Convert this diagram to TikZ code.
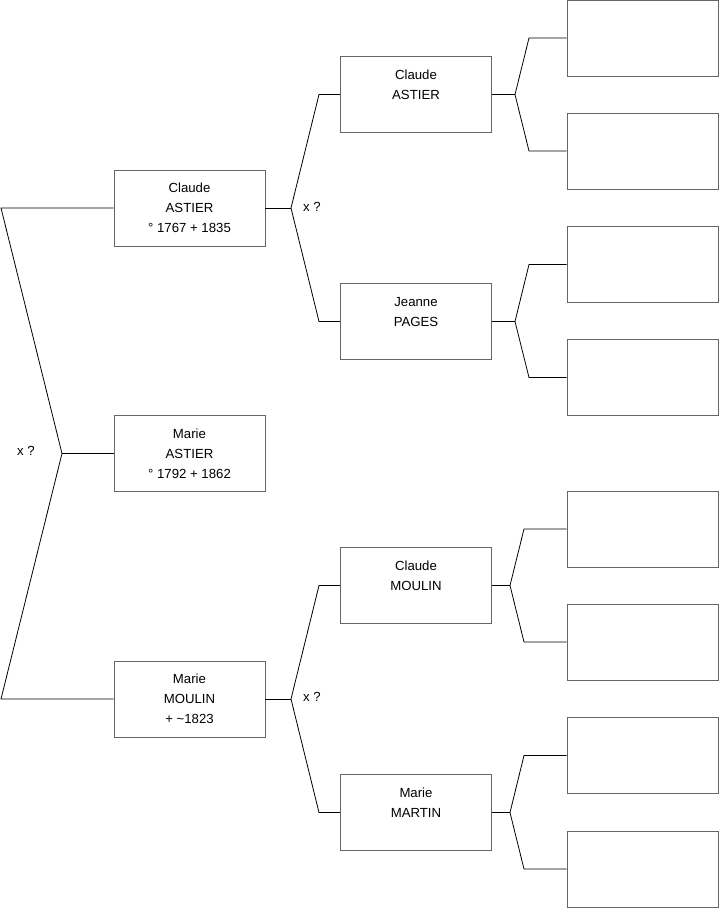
\documentclass[tikz,border=0pt]{standalone}
\usepackage{fontspec}
\setmainfont{Liberation Sans}
\usetikzlibrary{positioning}

\begin{document}
\begin{tikzpicture}[
  x=1pt,y=-1pt,
  font=\fontsize{13.2}{20}\selectfont,
  person/.style={draw=black!60,line width=0.9pt,minimum width=151pt,minimum height=76pt,inner sep=0pt,align=center},
  link/.style={line width=0.8pt},
]
\useasboundingbox (0,0) rectangle (719,908);

% ---------- first generation ----------
\node[person] (p1) at (189.5,208) {Claude\\ASTIER\\° 1767 + 1835};
\node[person] (p2) at (189.5,453.5) {Marie\\ASTIER\\° 1792 + 1862};
\node[person] (p3) at (189.5,699) {Marie\\MOULIN\\+ \textasciitilde1823};

\coordinate (jt) at (1,208);
\coordinate (jm) at (62,453.5);
\coordinate (jb) at (1,699);
\draw[link] (p1.west) -- (jt) -- (jm) -- (jb) -- (p3.west);
\draw[link] (jm) -- (p2.west);
\node (u0) at (26,451) {x ?};

% ---------- grandparents ----------
\node[person] (g1) at (416,94.5) {Claude\\ASTIER\\~};
\node[person] (g2) at (416,321.5) {Jeanne\\PAGES\\~};
\node[person] (g3) at (416,585.5) {Claude\\MOULIN\\~};
\node[person] (g4) at (416,812.5) {Marie\\MARTIN\\~};

\coordinate (f1) at (291,208);
\coordinate (f1a) at (319,94.5);
\coordinate (f1b) at (319,321.5);
\draw[link] (p1.east) -- (f1);
\draw[link] (g1.west) -- (f1a) -- (f1) -- (f1b) -- (g2.west);
\node (u1) at (312,207) {x ?};

\coordinate (f2) at (291,699);
\coordinate (f2a) at (319,585.5);
\coordinate (f2b) at (319,812.5);
\draw[link] (p3.east) -- (f2);
\draw[link] (g3.west) -- (f2a) -- (f2) -- (f2b) -- (g4.west);
\node (u2) at (312,697) {x ?};

% ---------- great-grandparents (unknown) ----------
\node[person] (e1) at (642.5,38) {};
\node[person] (e2) at (642.5,151) {};
\node[person] (e3) at (642.5,264.5) {};
\node[person] (e4) at (642.5,377.5) {};
\node[person] (e5) at (642.5,529) {};
\node[person] (e6) at (642.5,642) {};
\node[person] (e7) at (642.5,755.5) {};
\node[person] (e8) at (642.5,869) {};

\coordinate (h1) at (515,94.5);
\coordinate (h1a) at (529,38);
\coordinate (h1b) at (529,151);
\draw[link] (g1.east) -- (h1);
\draw[link] (e1.west) -- (h1a) -- (h1) -- (h1b) -- (e2.west);

\coordinate (h2) at (515,321.5);
\coordinate (h2a) at (529,264.5);
\coordinate (h2b) at (529,377.5);
\draw[link] (g2.east) -- (h2);
\draw[link] (e3.west) -- (h2a) -- (h2) -- (h2b) -- (e4.west);

\coordinate (h3) at (510,585.5);
\coordinate (h3a) at (524,529);
\coordinate (h3b) at (524,642);
\draw[link] (g3.east) -- (h3);
\draw[link] (e5.west) -- (h3a) -- (h3) -- (h3b) -- (e6.west);

\coordinate (h4) at (510,812.5);
\coordinate (h4a) at (524,755.5);
\coordinate (h4b) at (524,869);
\draw[link] (g4.east) -- (h4);
\draw[link] (e7.west) -- (h4a) -- (h4) -- (h4b) -- (e8.west);

\end{tikzpicture}
\end{document}
